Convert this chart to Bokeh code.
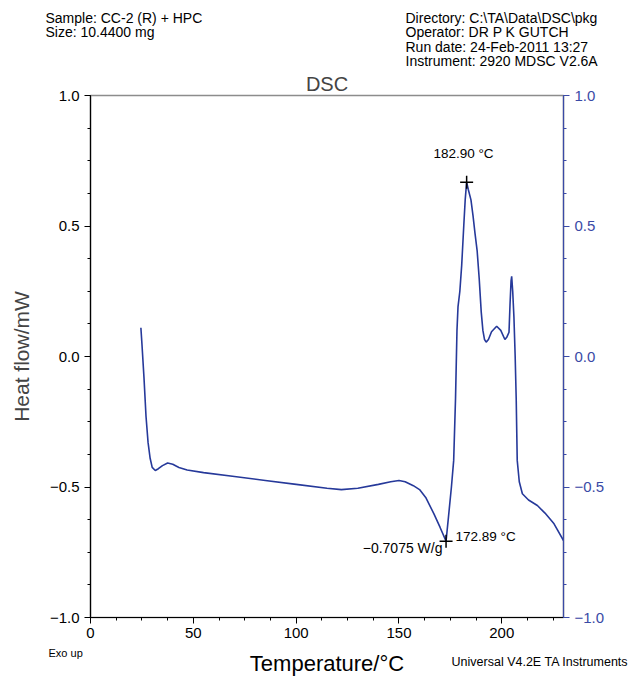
from bokeh.plotting import figure
from bokeh.layouts import column
from bokeh.models import Range1d, LinearAxis, SingleIntervalTicker, CustomJSTickFormatter, Label, Plot
from bokeh.core.properties import value
from bokeh.embed import file_html
from bokeh.resources import INLINE

# ---- data ----
temp = [24.5, 25.0, 26.0, 27.0, 28.0, 29.0, 30.0, 31.5, 33.0, 35.0, 37.5, 40.0, 43.0, 47.0,
        55.0, 70.0, 85.0, 100.0, 115.0, 122.0, 130.0, 140.0, 146.0, 150.0, 153.0, 157.0,
        160.0, 163.0, 167.0, 170.0, 172.89, 174.0, 175.5, 176.6, 177.5, 178.2, 178.7, 179.6,
        180.5, 181.5, 182.2, 182.9, 183.7, 185.0, 186.0, 187.0, 188.0, 189.0, 190.0, 190.8,
        191.6, 192.4, 193.5, 195.0, 197.5, 199.5, 201.5, 202.5, 203.5, 204.0, 204.5, 204.8,
        205.3, 205.9, 206.5, 207.0, 207.5, 208.5, 210.0, 213.0, 217.3, 221.0, 225.4, 230.0]
heat = [0.11, 0.05, -0.08, -0.23, -0.33, -0.39, -0.425, -0.437, -0.43, -0.418, -0.408, -0.413,
        -0.425, -0.435, -0.445, -0.46, -0.475, -0.49, -0.505, -0.51, -0.505, -0.49, -0.48,
        -0.475, -0.48, -0.495, -0.51, -0.54, -0.603, -0.655, -0.7075, -0.62, -0.5, -0.398,
        -0.16, 0.1, 0.19, 0.25, 0.35, 0.5, 0.6, 0.668, 0.64, 0.6, 0.54, 0.47, 0.406, 0.3, 0.17,
        0.1, 0.065, 0.055, 0.065, 0.095, 0.116, 0.1, 0.065, 0.075, 0.093, 0.2, 0.29, 0.307,
        0.25, 0.15, 0.0, -0.16, -0.398, -0.48, -0.526, -0.55, -0.571, -0.6, -0.641, -0.705]

peak_T = [182.90]
peak_H = [0.668]
min_T = [172.89]
min_H = [-0.7075]

header_left = ["Sample: CC-2 (R) + HPC", "Size:  10.4400 mg"]
header_right = ["Directory: C:\\TA\\Data\\DSC\\pkg", "Operator: DR P K GUTCH",
                "Run date: 24-Feb-2011 13:27", "Instrument: 2920 MDSC V2.6A"]
x_title = "Temperature/°C"
y_title = "Heat flow/mW"
footer_left = "Exo up"
footer_right = "Universal V4.2E TA Instruments"

FONT = "Liberation Sans"
CURVE = "#26399a"
BLUE = "#3a4aa6"

W = 630
HDR_H = 69          # header strip
FTR_TOP = 645       # footer strip starts here (page px)
TOTAL_H = 676
FL, FR, FT, FB = 90, 563, 95, 617   # frame edges in page pixels
XMIN, XMAX, YMIN, YMAX = 0, 230, -1.0, 1.0

HAS_FRAME_ALIGN = "frame_align" in Plot.properties()


def no_align(f):
    if HAS_FRAME_ALIGN:
        f.frame_align = False


def strip(h):
    f = figure(width=W, height=h, output_backend="svg", toolbar_location=None,
               x_range=Range1d(0, W), y_range=Range1d(h, 0),
               x_axis_location=None, y_axis_location=None,
               min_border=0, min_border_left=0, min_border_right=0,
               min_border_top=0, min_border_bottom=0)
    f.grid.visible = False
    f.outline_line_color = None
    no_align(f)
    return f

# ---- header strip ----
hdr = strip(HDR_H)
rows = [17, 31.5, 46, 60.5]
hdr.text(x=[45] * len(header_left), y=rows[:len(header_left)], text=header_left,
         text_font=value(FONT), text_font_size="14px", text_baseline="middle",
         text_align="left", text_color="black")
hdr.text(x=[405] * len(header_right), y=rows[:len(header_right)], text=header_right,
         text_font=value(FONT), text_font_size="14px", text_baseline="middle",
         text_align="left", text_color="black")

# ---- main plot ----
MAIN_H = FTR_TOP - HDR_H
p = figure(width=W, height=MAIN_H, output_backend="svg", toolbar_location=None,
           x_range=Range1d(XMIN, XMAX), y_range=Range1d(YMIN, YMAX),
           min_border_left=FL, min_border_right=W - FR,
           min_border_top=FT - HDR_H, min_border_bottom=FTR_TOP - FB)
no_align(p)
p.grid.visible = False
p.outline_line_color = "#8c8c8c"
p.outline_line_width = 1.5

p.title.text = "DSC"
p.title.align = "center"
p.title.text_font = FONT
p.title.text_font_size = "20px"
p.title.text_font_style = "normal"
p.title.standoff = 1

fmt = CustomJSTickFormatter(code="return tick.toFixed(1).replace('-', '\\u2212');")

xa = p.xaxis[0]
xa.ticker = SingleIntervalTicker(interval=50, num_minor_ticks=4)
ya = p.yaxis[0]
ya.ticker = SingleIntervalTicker(interval=0.5, num_minor_ticks=4)
ya.formatter = fmt
ya.axis_label = y_title

ra = LinearAxis(ticker=SingleIntervalTicker(interval=0.5, num_minor_ticks=4), formatter=fmt)
p.add_layout(ra, "right")

for ax in (xa, ya, ra):
    ax.major_tick_in = 0
    ax.major_tick_out = 6
    ax.minor_tick_in = 0
    ax.minor_tick_out = 3
    ax.major_label_text_font = FONT
    ax.major_label_text_font_size = "15px"
    ax.axis_label_text_font = FONT
    ax.axis_label_text_font_size = "21px"
    ax.axis_label_text_font_style = "normal"
    ax.axis_line_width = 1.2
for ax in (xa, ya):
    ax.axis_line_color = "black"
    ax.major_tick_line_color = "black"
    ax.minor_tick_line_color = "black"
    ax.major_label_text_color = "black"
xa.major_label_standoff = 4
ya.axis_label_standoff = 14
ra.axis_line_color = BLUE
ra.major_tick_line_color = BLUE
ra.minor_tick_line_color = BLUE
ra.major_label_text_color = BLUE

p.line(temp, heat, line_color=CURVE, line_width=1.6)
p.scatter(peak_T, peak_H, marker="cross", size=13, line_color="black", line_width=1.5)
p.scatter(min_T, min_H, marker="cross", size=13, line_color="black", line_width=1.5)


def X(px):
    return XMIN + (px - FL) / (FR - FL) * (XMAX - XMIN)

def Y(py):
    return YMIN + (FB - py) / (FB - FT) * (YMAX - YMIN)

def lab(px, py, text, size, align="left"):
    p.add_layout(Label(x=X(px), y=Y(py), text=text, text_font=FONT, text_font_size=size,
                       text_align=align, text_baseline="middle", text_color="black"))

lab(463, 153, "%.2f °C" % peak_T[0], "13.5px", align="center")
lab(455, 536, "%.2f °C" % min_T[0], "13.5px")
lab(442, 547, "\u2212%.4f W/g" % abs(min_H[0]), "14px", align="right")

# ---- footer strip ----
ftr = strip(TOTAL_H - FTR_TOP)
ftr.text(x=[48], y=[652 - FTR_TOP], text=[footer_left], text_font=value(FONT),
         text_font_size="11px", text_baseline="middle", text_align="left")
ftr.text(x=[(FL + FR) / 2], y=[663 - FTR_TOP], text=[x_title], text_font=value(FONT),
         text_font_size="22px", text_baseline="middle", text_align="center")
ftr.text(x=[628], y=[661 - FTR_TOP], text=[footer_right], text_font=value(FONT),
         text_font_size="12.5px", text_baseline="middle", text_align="right")

layout = column(hdr, p, ftr, spacing=0)
open("out.html", "w").write(file_html(layout, INLINE))
